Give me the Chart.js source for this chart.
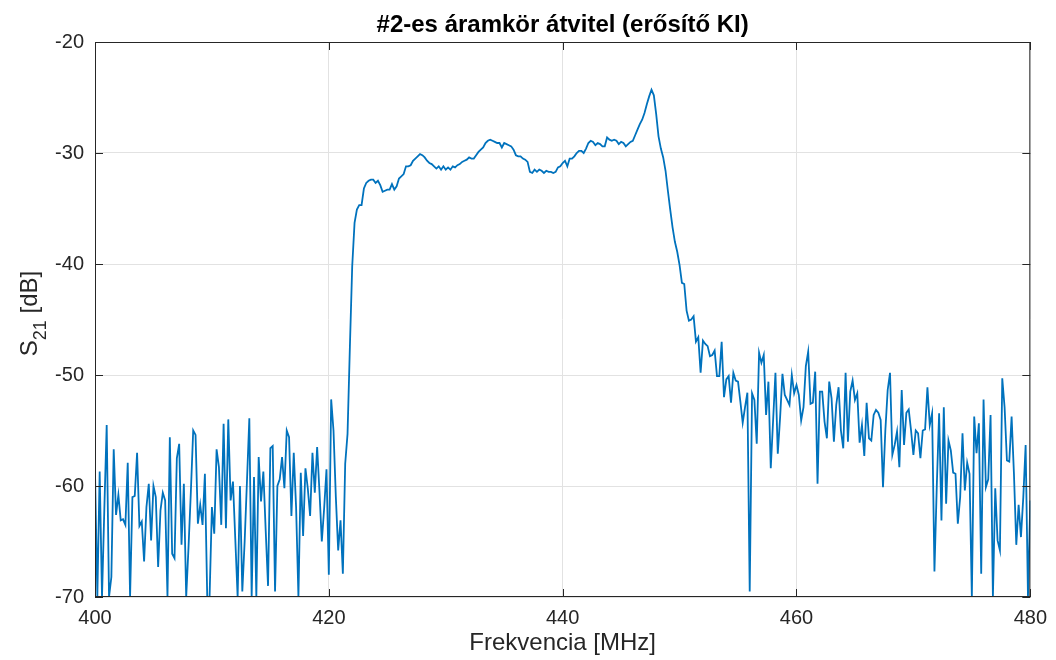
<!DOCTYPE html>
<html>
<head>
<meta charset="utf-8">
<script src="https://cdn.jsdelivr.net/npm/chart.js@4/dist/chart.umd.min.js"></script>
<style>
  body { margin: 0; background: #fff; }
  canvas { display: block; }
</style>
</head>
<body>
<canvas id="s21" width="1056" height="660"></canvas>
<script>
// sweep: 400 MHz .. 480 MHz, 0.2 MHz step (401 points)
var freqStart = 400;
var freqStep = 0.2;

// S21 [dB]
var s21 = [
  -58.7, -70, -58.7, -70, -62, -54.5, -70, -68.2, -56.7, -62.6,
  -60.8, -63.1, -63, -63.5, -57.9, -70, -61, -60.9, -57, -63.6,
  -63.2, -66.8, -61.9, -59.8, -64.9, -60, -61, -67.3, -62.2, -60.6,
  -61.3, -70, -55.6, -66.1, -66.5, -57.5, -56.2, -65.3, -59.8, -70,
  -65.5, -60.5, -55, -55.4, -63.4, -61.7, -63.5, -58.9, -70, -70,
  -61.9, -64.3, -56.7, -58.3, -63.5, -54.4, -63.8, -54, -61.3, -59.6,
  -64.8, -70, -60, -69.5, -65, -59.5, -53.9, -70, -59.2, -70,
  -57.4, -61.4, -58.7, -64, -69, -56.6, -56.4, -69.5, -60, -59.4,
  -57.4, -60.2, -55, -55.6, -62.7, -57, -61.9, -70, -58.8, -64.5,
  -58.4, -60.2, -62.7, -57, -60.6, -56.5, -60.5, -65, -62, -58.5,
  -68, -52.2, -55, -61, -65.8, -63.1, -67.9, -58, -55.3, -47.5,
  -40.2, -36.3, -35.1, -34.7, -34.7, -33.2, -32.7, -32.5, -32.4, -32.4,
  -32.7, -32.5, -32.9, -33.5, -33.4, -33.3, -33.3, -32.8, -33.3, -33,
  -32.3, -32.1, -31.9, -31.2, -31.2, -31.1, -30.7, -30.5, -30.3, -30.1,
  -30.2, -30.4, -30.7, -30.9, -31.0, -31.2, -31.4, -31.2, -31.5, -31.2,
  -31.5, -31.3, -31.5, -31.2, -31.3, -31.1, -31.0, -30.8, -30.7, -30.6,
  -30.4, -30.5, -30.5, -30.2, -29.9, -29.7, -29.5, -29.1, -28.9, -28.8,
  -28.9, -29.0, -29.1, -29.1, -29.5, -29.1, -29.2, -29.3, -29.4, -29.7,
  -30.2, -30.3, -30.3, -30.5, -30.6, -30.8, -31.7, -31.8, -31.5, -31.7,
  -31.5, -31.6, -31.8, -31.6, -31.7, -31.7, -31.8, -31.7, -31.3, -31.2,
  -30.9, -30.7, -31.2, -30.5, -30.5, -30.3, -30.0, -29.8, -29.8, -30.0,
  -29.6, -29.1, -28.9, -29.0, -29.3, -29.1, -29.2, -29.4, -29.4, -28.6,
  -28.8, -28.9, -28.8, -28.9, -29.2, -29.0, -29.1, -29.4, -29.2, -29.0,
  -28.9, -28.4, -27.9, -27.4, -27.0, -26.4, -25.6, -24.9, -24.3, -24.8,
  -26.5, -28.5, -29.6, -30.4, -31.6, -33.4, -35.1, -36.7, -38.0, -38.9,
  -40.1, -41.7, -41.8, -44.2, -45.1, -45.0, -44.7, -47.0, -46.6, -49.8,
  -46.9, -47.2, -47.4, -48.3, -48.2, -47.8, -50.1, -50.1, -47.0, -52.0,
  -50.4, -50.1, -52.5, -49.8, -50.5, -50.6, -52.4, -54.3, -52.9, -51.6,
  -69.5, -51.65, -52.25, -56.2, -48.0, -48.9, -48.2, -53.6, -50.6, -58.4,
  -54.1, -49.8, -57.1, -53.8, -49.9, -51.8, -52.25, -52.7, -50.0, -51.65,
  -50.9, -51.8, -54.1, -52.9, -49.2, -47.9, -52.6, -52.5, -49.7, -59.8,
  -51.5, -51.5, -54.2, -55.7, -50.6, -52.1, -56.0, -52.7, -51.1, -55.0,
  -56.6, -49.8, -56.0, -51.5, -50.5, -52.25, -51.65, -56.1, -54.5, -57.3,
  -52.5, -55.7, -55.9, -53.6, -53.15, -53.4, -54.05, -60.1, -55.0, -51.35,
  -49.8, -57.2, -56.3, -55.1, -58.3, -51.35, -56.3, -53.4, -53.1, -55.0,
  -57.2, -55.0, -55.25, -57.5, -55.0, -54.9, -51.1, -54.5, -53.45, -67.7,
  -60.0, -53.45, -63.1, -52.9, -61.6, -55.9, -56.8, -58.8, -58.9, -63.4,
  -61.0, -55.25, -60.4, -57.9, -58.9, -70, -53.75, -57.05, -54.35, -67.9,
  -52.2, -60.1, -59.4, -53.6, -70, -60.2, -64.9, -65.8, -50.3, -52.9,
  -57.7, -57.8, -53.75, -58.9, -65.3, -61.7, -64.6, -61.0, -56.3, -70,
  -61.3
];

var xTicks = [400, 420, 440, 460, 480];
var yTicks = [-70, -60, -50, -40, -30, -20];
var titleText = "#2-es áramkör átvitel (erősítő KI)";
var xLabel = "Frekvencia [MHz]";
var yLabelMain = "S";
var yLabelSub = "21";
var yLabelUnit = "[dB]";

var fontFamily = '"Liberation Sans", Arial, Helvetica, sans-serif';
var axisColor = '#262626';

var points = s21.map(function(v, i) {
    return { x: +(freqStart + i * freqStep).toFixed(1), y: v };
});

// MATLAB-ish frame: box, inward ticks, title and axis labels
var matlabFrame = {
    id: 'matlabFrame',
    afterDraw: function(chart) {
        var ctx = chart.ctx;
        var a = chart.chartArea;
        var xs = chart.scales.x, ys = chart.scales.y;
        var tickLen = 8;

        ctx.save();
        ctx.strokeStyle = axisColor;
        ctx.lineWidth = 1;
        ctx.strokeRect(a.left + 0.5, a.top + 0.5, a.right - a.left - 1, a.bottom - a.top - 1);

        ctx.beginPath();
        xTicks.forEach(function(t) {
            var px = Math.round(xs.getPixelForValue(t)) + 0.5;
            ctx.moveTo(px, a.bottom);
            ctx.lineTo(px, a.bottom - tickLen);
            ctx.moveTo(px, a.top);
            ctx.lineTo(px, a.top + tickLen);
        });
        yTicks.forEach(function(t) {
            var py = Math.round(ys.getPixelForValue(t)) + 0.5;
            ctx.moveTo(a.left, py);
            ctx.lineTo(a.left + tickLen, py);
            ctx.moveTo(a.right, py);
            ctx.lineTo(a.right - tickLen, py);
        });
        ctx.stroke();

        ctx.fillStyle = '#000';
        ctx.textAlign = 'center';
        ctx.textBaseline = 'alphabetic';
        var cx = (a.left + a.right) / 2;
        ctx.font = 'bold 24px ' + fontFamily;
        ctx.fillText(titleText, cx, 32);

        ctx.fillStyle = axisColor;
        ctx.font = '24px ' + fontFamily;
        ctx.fillText(xLabel, cx, 650);

        // y label with subscript, rotated
        var mainFont = '24px ' + fontFamily;
        var subFont = '18px ' + fontFamily;
        ctx.font = mainFont;
        var wS = ctx.measureText(yLabelMain).width;
        var wSp = ctx.measureText(' ').width;
        var wU = ctx.measureText(yLabelUnit).width;
        ctx.font = subFont;
        var wSub = ctx.measureText(yLabelSub).width;
        var total = wS + wSub + wSp + wU;
        ctx.translate(37, (a.top + a.bottom) / 2 - 6);
        ctx.rotate(-Math.PI / 2);
        ctx.textAlign = 'left';
        var x0 = -total / 2;
        ctx.font = mainFont;
        ctx.fillText(yLabelMain, x0, 0);
        ctx.font = subFont;
        ctx.fillText(yLabelSub, x0 + wS, 9);
        ctx.font = mainFont;
        ctx.fillText(yLabelUnit, x0 + wS + wSub + wSp, 0);
        ctx.restore();
    }
};

window.onload = function() {
    var ctx = document.getElementById('s21').getContext('2d');
    var chart = new Chart(ctx, {
        type: 'line',
        data: {
            datasets: [{
                data: points,
                borderColor: '#0072BD',
                borderWidth: 1.8,
                pointRadius: 0,
                tension: 0,
                fill: false
            }]
        },
        options: {
            responsive: false,
            animation: false,
            layout: { padding: { top: 42, right: 23, left: 0, bottom: 0 } },
            plugins: {
                legend: { display: false },
                tooltip: { enabled: false },
                title: { display: false }
            },
            scales: {
                x: {
                    type: 'linear',
                    min: 400,
                    max: 480,
                    afterFit: function(scale) { scale.height = 63; },
                    afterBuildTicks: function(scale) {
                        scale.ticks = xTicks.map(function(v) { return { value: v }; });
                    },
                    ticks: {
                        color: axisColor,
                        font: { family: fontFamily, size: 20 },
                        padding: 9,
                        maxRotation: 0
                    },
                    grid: { color: '#e2e2e2', drawTicks: false },
                    border: { display: false }
                },
                y: {
                    min: -70,
                    max: -20,
                    afterFit: function(scale) { scale.width = 95; },
                    afterBuildTicks: function(scale) {
                        scale.ticks = yTicks.map(function(v) { return { value: v }; });
                    },
                    ticks: {
                        color: axisColor,
                        font: { family: fontFamily, size: 20 },
                        padding: 11
                    },
                    grid: { color: '#e2e2e2', drawTicks: false },
                    border: { display: false }
                }
            }
        },
        plugins: [matlabFrame]
    });
    console.log(chart.chartArea);
};
</script>
</body>
</html>
